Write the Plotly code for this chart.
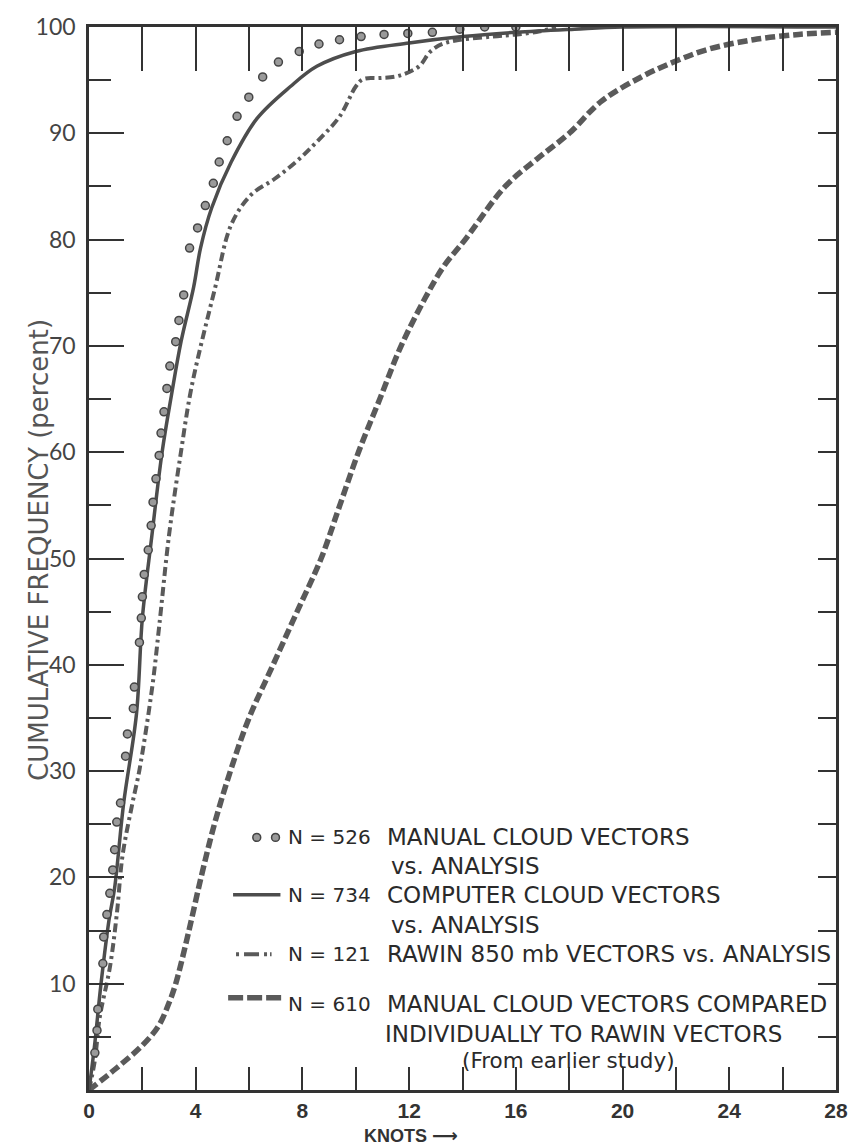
import plotly.graph_objects as go

# ---------------- data ----------------
manual_x = [0.22, 0.30, 0.33, 0.52, 0.55, 0.67, 0.78, 0.89, 0.96, 1.04, 1.18, 1.37, 1.44,
            1.66, 1.70, 1.89, 1.96, 2.00, 2.07, 2.22, 2.33, 2.40, 2.51, 2.63, 2.70, 2.81,
            2.92, 3.03, 3.25, 3.37, 3.55, 3.77, 4.07, 4.36, 4.66, 4.88, 5.18, 5.55, 5.99,
            6.51, 7.10, 7.88, 8.62, 9.39, 10.2, 11.06, 11.95, 12.87, 13.9, 14.83, 16.0]
manual_y = [3.5, 5.6, 7.6, 11.9, 14.4, 16.5, 18.5, 20.7, 22.6, 25.2, 27.0, 31.4, 33.5,
            35.9, 37.9, 42.1, 44.4, 46.4, 48.5, 50.8, 53.1, 55.3, 57.5, 59.7, 61.8, 63.8,
            66.0, 68.1, 70.4, 72.4, 74.8, 79.2, 81.1, 83.2, 85.3, 87.3, 89.3, 91.6, 93.4,
            95.3, 96.7, 97.7, 98.4, 98.8, 99.1, 99.3, 99.4, 99.5, 99.8, 100.0, 100.0]

computer_x = [0, 0.2, 0.45, 0.75, 0.96, 1.3, 1.78, 2.0, 2.35, 2.74, 3.1, 3.45, 3.92, 4.18,
              4.6, 5.33, 6.3, 7.55, 8.54, 10.0, 12.0, 14.0, 16.0, 18.2, 20.0, 28.0]
computer_y = [0, 4, 10, 16, 19, 27, 35.4, 44.4, 52, 60, 65.5, 70.4, 75.5, 79.2,
              83, 87.3, 91.4, 94.4, 96.3, 97.7, 98.5, 99.1, 99.5, 99.8, 100, 100]

rawin_x = [0, 0.22, 0.4, 0.78, 1.04, 1.26, 1.63, 1.89, 2.37, 2.63, 3.0, 3.44, 3.85, 4.73,
           5.33, 6.07, 6.95, 7.8, 8.54, 9.4, 10.0, 10.28, 10.9, 11.6, 12.37, 12.8, 13.35,
           15.1, 16.05, 16.9, 17.5]
rawin_y = [0, 2.8, 6.8, 11.5, 16.5, 22.1, 27.0, 30.1, 37.9, 43.6, 52.2, 59.9, 66.2, 75.5,
           81.4, 84.2, 85.7, 87.4, 89.2, 91.6, 94.4, 95.1, 95.2, 95.4, 96.3, 97.7, 98.5,
           99.1, 99.3, 99.6, 100.0]

earlier_x = [0, 1.0, 2.0, 2.6, 3.0, 3.25, 3.7, 4.2, 4.7, 5.3, 6.0, 6.9, 7.8, 8.7, 9.4,
             10.1, 10.9, 11.7, 12.6, 13.3, 14.1, 15.6, 16.8, 18.0, 19.2, 20.7, 22.0, 23.2,
             24.9, 26.6, 28.0]
earlier_y = [0, 2.0, 4.2, 6.0, 8.2, 10.0, 14.5, 20.0, 25.0, 30.0, 35.0, 40.0, 45.0, 50.0,
             55.0, 60.0, 65.0, 70.0, 74.5, 77.5, 80.0, 85.0, 87.6, 90.0, 93.0, 95.3, 96.8,
             97.9, 98.8, 99.3, 99.5]

x_ticks = [0, 4, 8, 12, 16, 20, 24, 28]
y_ticks = [10, 20, 30, 40, 50, 60, 70, 80, 90, 100]
x_range = [0, 28]
y_range = [0, 100]

legend_n = ["N = 526", "N = 734", "N = 121", "N = 610"]
legend_desc = ["MANUAL CLOUD VECTORS", "COMPUTER CLOUD VECTORS",
               "RAWIN 850 mb VECTORS vs. ANALYSIS", "MANUAL CLOUD VECTORS COMPARED"]

# ---------------- layout geometry ----------------
W, H = 860, 1147
L, R, T, B = 89, 846, 17, 1090
INK = "#333333"
GRAY = "#5a5a5a"


def px(xp):
    return (xp - L) / (R - L)


def py(yp):
    return (B - yp) / (B - T)


fig = go.Figure()

fig.add_trace(go.Scatter(x=earlier_x, y=earlier_y, mode="lines", line_shape="spline",
                         line=dict(color=GRAY, width=5.5, dash="10px,4px"), hoverinfo="skip"))
fig.add_trace(go.Scatter(x=rawin_x, y=rawin_y, mode="lines", line_shape="spline",
                         line=dict(color=GRAY, width=4, dash="9px,4px,3px,4px"), hoverinfo="skip"))
fig.add_trace(go.Scatter(x=computer_x, y=computer_y, mode="lines", line_shape="spline",
                         line=dict(color="#4d4d4d", width=3.5), hoverinfo="skip"))
fig.add_trace(go.Scatter(x=manual_x, y=manual_y, mode="markers",
                         marker=dict(size=8, color="#9a9a9a", line=dict(color="#444", width=1.5)),
                         hoverinfo="skip"))
# carrier for mirrored axes
fig.add_trace(go.Scatter(x=x_range, y=y_range, xaxis="x2", yaxis="y2", mode="lines",
                         line=dict(width=0), opacity=0, hoverinfo="skip"))

tickfont_x = dict(family="Liberation Sans, DejaVu Sans", size=21, color=INK, weight="bold")
tickfont_y = dict(family="Lato, DejaVu Sans", size=23, color="#444")

fig.update_layout(
    width=W, height=H, showlegend=False,
    margin=dict(l=L, r=W - R, t=T, b=H - B, pad=0),
    paper_bgcolor="white", plot_bgcolor="white",
    xaxis=dict(range=x_range, tickvals=x_ticks, ticks="inside", ticklen=23, tickwidth=2,
               tickcolor=INK, showline=True, linecolor=INK, linewidth=2.5, showgrid=False,
               zeroline=False, tickfont=tickfont_x, ticklabeloverflow="allow",
               minor=dict(dtick=2, ticks="inside", ticklen=23, tickwidth=2, tickcolor=INK,
                          showgrid=False)),
    yaxis=dict(range=y_range, tickvals=y_ticks, ticks="inside", ticklen=35, tickwidth=2,
               tickcolor=INK, showline=True, linecolor=INK, linewidth=2.5, showgrid=False,
               zeroline=False, tickfont=tickfont_y, ticklabelstandoff=6,
               minor=dict(dtick=5, ticks="inside", ticklen=22, tickwidth=2, tickcolor=INK,
                          showgrid=False)),
    xaxis2=dict(range=x_range, overlaying="x", side="top", anchor="y2", dtick=2,
                ticks="inside", ticklen=44, tickwidth=2, tickcolor=INK, showline=True,
                linecolor=INK, linewidth=2.5, showticklabels=False, showgrid=False,
                zeroline=False),
    yaxis2=dict(range=y_range, overlaying="y", side="right", anchor="x2", dtick=5,
                ticks="inside", ticklen=18, tickwidth=2, tickcolor=INK, showline=True,
                linecolor=INK, linewidth=2.5, showticklabels=False, showgrid=False,
                zeroline=False),
)

ann = []
# y title
ann.append(dict(text="CUMULATIVE FREQUENCY (percent)", xref="paper", yref="paper",
                x=px(21), y=py(545), textangle=-90, showarrow=False,
                font=dict(family="DejaVu Sans", size=26, color="#555")))
# x title
ann.append(dict(text="KNOTS \u27f6", xref="paper", yref="paper", x=px(366), y=py(1136),
                xanchor="left", yanchor="middle", showarrow=False,
                font=dict(family="Liberation Sans, DejaVu Sans", size=18, color=INK,
                          weight="bold")))

lf = dict(family="DejaVu Sans", size=23, color="#2a2a2a")
nf = dict(family="DejaVu Sans", size=20, color="#2a2a2a")
rows_n = [835, 893, 953, 1003]
for n, d, yy in zip(legend_n, legend_desc, rows_n):
    ann.append(dict(text=n, xref="paper", yref="paper", x=px(289), y=py(yy),
                    xanchor="left", yanchor="middle", showarrow=False, font=nf))
    ann.append(dict(text=d, xref="paper", yref="paper", x=px(389), y=py(yy),
                    xanchor="left", yanchor="middle", showarrow=False, font=lf))
for t, xx, yy in [("vs. ANALYSIS", 393, 864), ("vs. ANALYSIS", 393, 923),
                  ("INDIVIDUALLY TO RAWIN VECTORS", 387, 1033)]:
    ann.append(dict(text=t, xref="paper", yref="paper", x=px(xx), y=py(yy),
                    xanchor="left", yanchor="middle", showarrow=False, font=lf))
ann.append(dict(text="(From earlier study)", xref="paper", yref="paper", x=px(465), y=py(1060),
                xanchor="left", yanchor="middle", showarrow=False,
                font=dict(family="DejaVu Sans", size=21.5, color="#2a2a2a")))
fig.update_layout(annotations=ann)

shapes = []
for cx in (259, 278):
    shapes.append(dict(type="circle", xref="paper", yref="paper",
                       x0=px(cx - 4), x1=px(cx + 4), y0=py(835 + 4), y1=py(835 - 4),
                       fillcolor="#9a9a9a", line=dict(color="#444", width=1.5)))
shapes.append(dict(type="line", xref="paper", yref="paper", x0=px(235), x1=px(283),
                   y0=py(893), y1=py(893), line=dict(color="#4d4d4d", width=3.5)))
shapes.append(dict(type="line", xref="paper", yref="paper", x0=px(238), x1=px(274),
                   y0=py(953), y1=py(953), line=dict(color=GRAY, width=4, dash="3px,5px,15px,5px,3px")))
shapes.append(dict(type="line", xref="paper", yref="paper", x0=px(230), x1=px(287),
                   y0=py(997), y1=py(997), line=dict(color=GRAY, width=5.5, dash="15px,4px")))
fig.update_layout(shapes=shapes)

fig.write_html("out.html")
